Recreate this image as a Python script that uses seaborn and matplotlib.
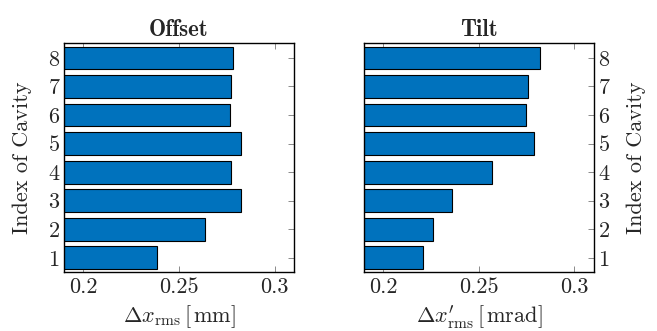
import numpy as np
import pandas as pd
import matplotlib
matplotlib.use("Agg")
import matplotlib.pyplot as plt
import seaborn as sns

# values
cavity = [1, 2, 3, 4, 5, 6, 7, 8]
offset_rms = [0.2383, 0.2638, 0.2826, 0.2773, 0.2822, 0.2766, 0.2771, 0.2780]
tilt_rms = [0.2206, 0.2257, 0.2361, 0.2569, 0.2787, 0.2745, 0.2759, 0.2817]
xticks = [0.2, 0.25, 0.3]
xtick_labels = ["0.2", "0.25", "0.3"]

sns.set_style("ticks")
plt.rcParams["font.family"] = "serif"
plt.rcParams["font.serif"] = ["cmr10"]
plt.rcParams["mathtext.fontset"] = "cm"
plt.rcParams["axes.unicode_minus"] = False
plt.rcParams["axes.formatter.use_mathtext"] = True

bar_color = "#0072BD"
fs = 16

df = pd.DataFrame({"cavity": cavity, "offset": offset_rms, "tilt": tilt_rms})
order = sorted(cavity, reverse=True)

fig = plt.figure(figsize=(6.57, 3.31), dpi=100)
ax1 = fig.add_axes([0.098, 0.177, 0.349, 0.692])
ax2 = fig.add_axes([0.5545, 0.177, 0.349, 0.692])

panels = [
    (ax1, "offset", "Offset", r"$\Delta x_{\rm rms}\,[\,\mathrm{mm}]$"),
    (ax2, "tilt", "Tilt", r"$\Delta x^{\prime}_{\rm rms}\,[\,\mathrm{mrad}]$"),
]

for ax, col, title, xlabel in panels:
    sns.barplot(data=df, x=col, y="cavity", orient="h", order=order,
                color=bar_color, saturation=1, width=0.8,
                edgecolor="black", linewidth=0.8, ax=ax)
    ax.set_xlim(0.19, 0.31)
    ax.set_ylim(7.51, -0.51)
    ax.set_xticks(xticks)
    ax.set_xticklabels(xtick_labels)
    ax.set_title(title, fontsize=16.5, fontfamily="cmb10", pad=5)
    ax.set_xlabel(xlabel, fontsize=fs, labelpad=5)
    ax.tick_params(axis="both", direction="in", length=4, width=0.6,
                   color="#777777", labelsize=fs, top=True, right=True,
                   left=True, bottom=True)
    for s in ax.spines.values():
        s.set_linewidth(1.0)
        s.set_color("black")

ax1.set_ylabel("Index of Cavity", fontsize=fs, labelpad=12)
ax2.yaxis.set_label_position("right")
ax2.yaxis.tick_right()
ax2.tick_params(axis="y", left=True, right=True, labelleft=False, labelright=True)
ax2.set_ylabel("Index of Cavity", fontsize=fs, labelpad=12)

fig.savefig("out.png", dpi=100)
